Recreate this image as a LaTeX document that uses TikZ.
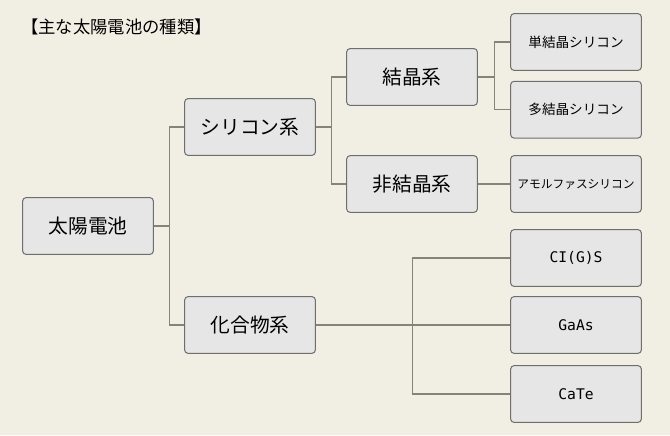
\documentclass[tikz,border=0pt]{standalone}
\usepackage{fontspec}
\setmainfont{Noto Sans CJK JP}
\newfontfamily\latinmono{DejaVu Sans Mono}
\usepackage{xcolor}
\usetikzlibrary{positioning}

\definecolor{bgcream}{HTML}{F1EFE4}
\definecolor{boxfill}{HTML}{E6E6E6}
\definecolor{boxedge}{HTML}{6E6E6E}
\definecolor{linkgray}{HTML}{84847C}

\begin{document}
\begin{tikzpicture}[x=0.75pt, y=-0.75pt, node distance=7.5pt,
        box/.style={draw=boxedge, fill=boxfill, rounded corners=2.5pt, line width=0.75pt,
            minimum width=98pt, minimum height=42.5pt, inner sep=2pt, align=center,
            font=\fontsize{14.8}{16}\selectfont},
        leaf/.style={box, font=\fontsize{10.2}{12}\selectfont},
        latin/.style={box, font=\latinmono\fontsize{11}{13}\selectfont},
        link/.style={draw=linkgray, line width=0.9pt}
    ]
        % background and title
        \fill[bgcream] (0,0) rectangle (670,435);
        \node[anchor=west, inner sep=0pt, font=\fontsize{13}{15}\selectfont] (title) at (21,27) {【主な太陽電池の種類】};

        % Blocks
        \node [box] (root) at (88,226) {太陽電池};
        \node [box] (sil) at (250,127) {シリコン系};
        \node [box] (comp) at (250,325) {化合物系};
        \node [box] (cry) at (412,77) {結晶系};
        \node [box] (noncry) at (412,184) {非結晶系};
        \node [leaf] (mono) at (576,42) {単結晶シリコン};
        \node [leaf, below=of mono] (poly) {多結晶シリコン};
        \node [leaf, font=\fontsize{8.8}{10}\selectfont] (asi) at (576,184) {アモルファスシリコン};
        \node [latin] (cigs) at (576,258) {CI(G)S};
        \node [latin] (gaas) at (576,325) {GaAs};
        \node [latin] (cate) at (576,394) {CaTe};

        % Connections
        \draw [link] (sil.west) -- ++(-15,0) |- (root.east);
        \draw [link] (comp.west) -- ++(-15,0) |- (root.east);
        \draw [link] (cry.west) -- ++(-15,0) |- (sil.east);
        \draw [link] (noncry.west) -- ++(-15,0) |- (sil.east);
        \draw [link] (mono.west) -- ++(-16,0) |- (cry.east);
        \draw [link] (poly.west) -- ++(-16,0) |- (cry.east);
        \draw [link] (noncry.east) -- (asi.west);
        \draw [link] (cigs.west) -- ++(-98,0) |- (comp.east);
        \draw [link] (cate.west) -- ++(-98,0) |- (comp.east);
        \draw [link] (comp.east) -- (gaas.west);
\end{tikzpicture}
\end{document}
